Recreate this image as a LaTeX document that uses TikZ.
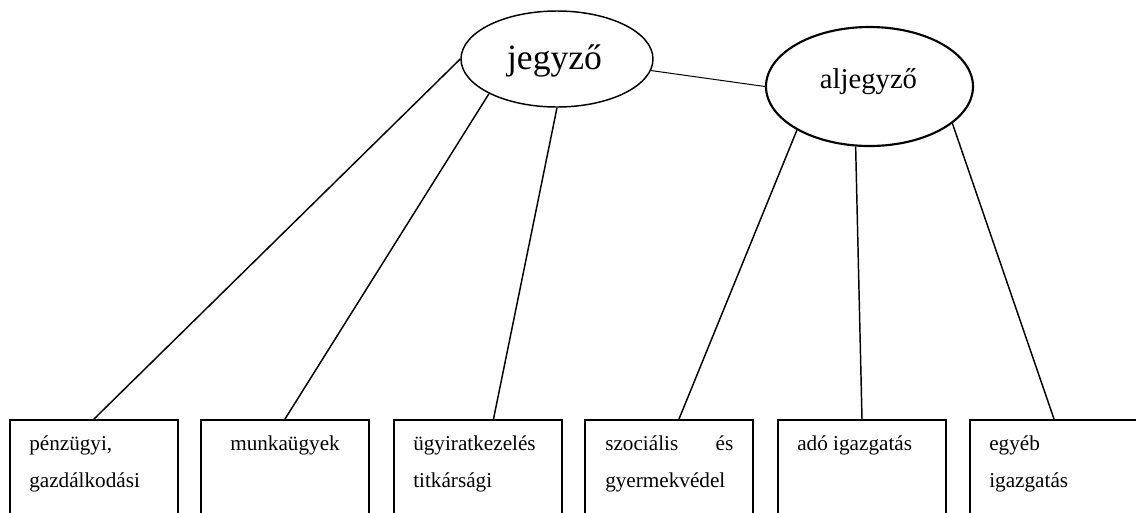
\documentclass[tikz,border=0pt]{standalone}
\usepackage{fontspec}
\setmainfont{Liberation Serif}
\usetikzlibrary{shapes.geometric,calc}
\begin{document}
\begin{tikzpicture}[x=0.75pt,y=-0.75pt,
  conn/.style={line width=1.1pt},
  box/.style={draw, line width=1.5pt, rectangle, minimum width=126pt, minimum height=90pt, anchor=north west, inner sep=0pt},
  lbl/.style={anchor=base west, inner sep=0pt, font=\fontsize{15.9}{19}\selectfont},
]
\useasboundingbox (0,0) rectangle (1136,512);
\clip (0,0) rectangle (1136,512);
% ellipses
\node[draw, ellipse, line width=1.1pt, minimum width=144pt, minimum height=72pt, inner sep=0pt] (j) at (557,59) {};
\node[draw, ellipse, line width=1.6pt, minimum width=155.25pt, minimum height=89.25pt, inner sep=0pt] (a) at (869.5,86.5) {};
\node[anchor=base, inner sep=0pt, font=\fontsize{26.7}{30}\selectfont] (jt) at (554.5,69) {jegyző};
\node[anchor=base, inner sep=0pt, font=\fontsize{21.5}{26}\selectfont] (alt) at (868.5,88) {aljegyző};
% boxes
\node[box] (b1) at (9,419) {};
\node[box] (b2) at (200,419) {};
\node[box] (b3) at (393,419) {};
\node[box] (b4) at (584,419) {};
\node[box] (b5) at (777,419) {};
\node[box] (b6) at (969,419) {};
% labels
\node[lbl] (t1a) at (29,450) {pénzügyi,};
\node[lbl] (t1b) at (29,487) {gazdálkodási};
\node[lbl] (t2a) at (230,450) {munkaügyek};
\node[lbl] (t3a) at (413,450) {ügyiratkezelés};
\node[lbl] (t3b) at (413,487) {titkársági};
\node[lbl] (t4a) at (605,450) {\makebox[96pt][s]{szociális\hfill és}};
\node[lbl] (t4b) at (605,487) {gyermekvédel};
\node[lbl] (t5a) at (797,450) {adó igazgatás};
\node[lbl] (t6a) at (989,450) {egyéb};
\node[lbl] (t6b) at (989,487) {igazgatás};
% connectors
\draw[conn] (j.180) -- (b1.north);
\draw[conn] (j.207) -- (b2.north);
\draw[conn] (j.270) -- ($(b3.north)+(15.5,0)$);
\draw[line width=0.75pt] (j.353) -- (a.180);
\draw[conn] (a.211) -- ($(b4.north)+(10,0)$);
\draw[conn] (a.257) -- (b5.north);
\draw[conn] (a.336) -- (b6.north);
\end{tikzpicture}
\end{document}
